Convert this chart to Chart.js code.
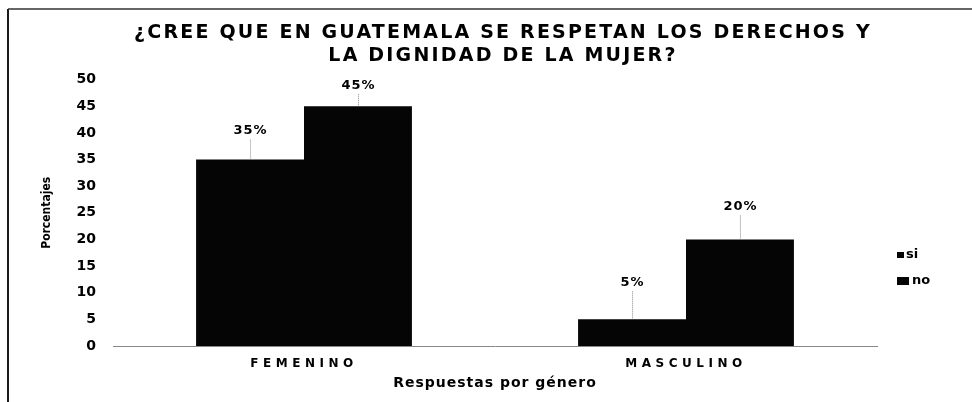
<!DOCTYPE html>
<html>
<head>
<meta charset="utf-8">
<script src="https://cdn.jsdelivr.net/npm/chart.js@4.4.1/dist/chart.umd.min.js"></script>
<style>
  html, body { margin: 0; padding: 0; background: #fff; }
  #wrap { width: 972px; height: 402px; position: relative; }
</style>
</head>
<body>
<div id="wrap"><canvas id="c" width="972" height="402"></canvas></div>
<script>
// Survey answers by gender (percent)
const categories = ['FEMENINO', 'MASCULINO'];
const seriesNames = ['si', 'no'];
const siValues = [35, 5];
const noValues = [45, 20];
const valueLabels = [['35%', '5%'], ['45%', '20%']];
const yTicks = [0, 5, 10, 15, 20, 25, 30, 35, 40, 45, 50];

const titleLines = ['¿CREE QUE EN GUATEMALA SE RESPETAN LOS DERECHOS Y', 'LA DIGNIDAD DE LA MUJER?'];
const yTitle = 'Porcentajes';
const xTitle = 'Respuestas por género';

// how far each value label sits above its bar (px), per dataset / category
const labelLift = [[29, 37], [21, 33]];

// white page with the dark frame on the left and top edges
const framePlugin = {
  id: 'frame',
  beforeDraw(chart) {
    const ctx = chart.ctx;
    ctx.save();
    ctx.fillStyle = '#fff';
    ctx.fillRect(0, 0, chart.width, chart.height);
    ctx.strokeStyle = '#1a1a1a';
    ctx.lineWidth = 2;
    ctx.beginPath();
    ctx.moveTo(8, chart.height);
    ctx.lineTo(8, 9);
    ctx.stroke();
    ctx.lineWidth = 1.5;
    ctx.strokeStyle = '#333';
    ctx.beginPath();
    ctx.moveTo(8, 9);
    ctx.lineTo(chart.width, 9);
    ctx.stroke();
    ctx.restore();
  }
};

function withSpacing(chart, fn, spacing) {
  return function (...args) {
    const ctx = chart.ctx;
    ctx.save();
    ctx.letterSpacing = spacing;
    fn(...args);
    ctx.restore();
  };
}

// spaced lettering for the title and x-axis texts, centred title
const layoutPlugin = {
  id: 'tweaks',
  afterLayout(chart) {
    const t = chart.titleBlock;
    if (t) {
      t.left = 20;
      t.right = 986;
      if (!t._spaced) {
        t.draw = withSpacing(chart, t.draw.bind(t), '2.2px');
        t._spaced = true;
      }
    }
    const x = chart.scales.x;
    if (!x._spaced) {
      x.drawLabels = withSpacing(chart, x.drawLabels.bind(x), '4.5px');
      x.drawTitle = withSpacing(chart, x.drawTitle.bind(x), '1px');
      x._spaced = true;
    }
  }
};

// value labels with short dotted leaders above each bar
const valueLabelPlugin = {
  id: 'valueLabels',
  afterDatasetsDraw(chart) {
    const ctx = chart.ctx;
    ctx.save();
    chart.data.datasets.forEach((ds, di) => {
      const meta = chart.getDatasetMeta(di);
      meta.data.forEach((bar, i) => {
        const x = bar.x, y = bar.y;
        const lift = labelLift[di][i];
        ctx.strokeStyle = '#888';
        ctx.lineWidth = 1;
        ctx.setLineDash([1, 1]);
        ctx.beginPath();
        ctx.moveTo(x + 0.5, y - 1);
        ctx.lineTo(x + 0.5, y - lift + 9);
        ctx.stroke();
        ctx.setLineDash([]);
        ctx.fillStyle = '#000';
        ctx.font = 'bold 13px "DejaVu Sans"';
        ctx.letterSpacing = '1px';
        ctx.textAlign = 'center';
        ctx.textBaseline = 'middle';
        ctx.fillText(valueLabels[di][i], x + 0.5, y - lift);
      });
    });
    ctx.restore();
  }
};

// legend at the right of the plot
const legendPlugin = {
  id: 'sideLegend',
  afterDraw(chart) {
    const ctx = chart.ctx;
    const marks = [{ x: 897, w: 7, h: 6, tx: 906 }, { x: 897, w: 12, h: 8, tx: 912 }];
    ctx.save();
    ctx.font = 'bold 13px "DejaVu Sans"';
    ctx.textBaseline = 'middle';
    ctx.textAlign = 'left';
    chart.data.datasets.forEach((ds, di) => {
      const cy = 255 + di * 26;
      const m = marks[di];
      ctx.fillStyle = ds.backgroundColor;
      ctx.fillRect(m.x, cy - m.h / 2, m.w, m.h);
      ctx.fillStyle = '#000';
      ctx.fillText(ds.label, m.tx, cy);
    });
    ctx.restore();
  }
};

new Chart(document.getElementById('c'), {
  type: 'bar',
  data: {
    labels: categories,
    datasets: [
      { label: seriesNames[0], data: siValues, backgroundColor: '#050505', borderWidth: 0 },
      { label: seriesNames[1], data: noValues, backgroundColor: '#050505', borderWidth: 0 }
    ]
  },
  options: {
    responsive: false,
    animation: false,
    devicePixelRatio: 1,
    categoryPercentage: 0.565,
    barPercentage: 1.0,
    layout: { padding: { left: 0, right: 95, top: 0, bottom: 0 } },
    plugins: {
      legend: { display: false },
      tooltip: { enabled: false },
      title: {
        display: true,
        text: titleLines,
        color: '#000',
        font: { family: 'DejaVu Sans', weight: 'bold', size: 19, lineHeight: 1.2 },
        padding: { top: 22, bottom: 12 }
      }
    },
    scales: {
      x: {
        afterFit(scale) { scale.height = 56; },
        grid: { display: false, drawTicks: false },
        border: { display: true, color: '#888', width: 1, dash: [2, 1] },
        ticks: { color: '#000', padding: 11, font: { family: 'DejaVu Sans', weight: 'bold', size: 12 } },
        title: {
          display: true,
          text: xTitle,
          color: '#000',
          font: { family: 'DejaVu Sans', weight: 'bold', size: 14 },
          padding: { top: 6, bottom: 10 }
        }
      },
      y: {
        min: 0,
        max: 50,
        afterBuildTicks(scale) { scale.ticks = yTicks.map(v => ({ value: v })); },
        afterFit(scale) { scale.width = 113; },
        grid: { display: false, drawTicks: false },
        border: { display: false },
        ticks: { color: '#000', padding: 17, font: { family: 'DejaVu Sans', weight: 'bold', size: 14 } },
        title: {
          display: true,
          text: yTitle,
          color: '#000',
          font: { family: 'DejaVu Sans Condensed', weight: 'bold', size: 12 },
          padding: { top: 40, bottom: 0 }
        }
      }
    }
  },
  plugins: [framePlugin, layoutPlugin, valueLabelPlugin, legendPlugin]
});
</script>
</body>
</html>
